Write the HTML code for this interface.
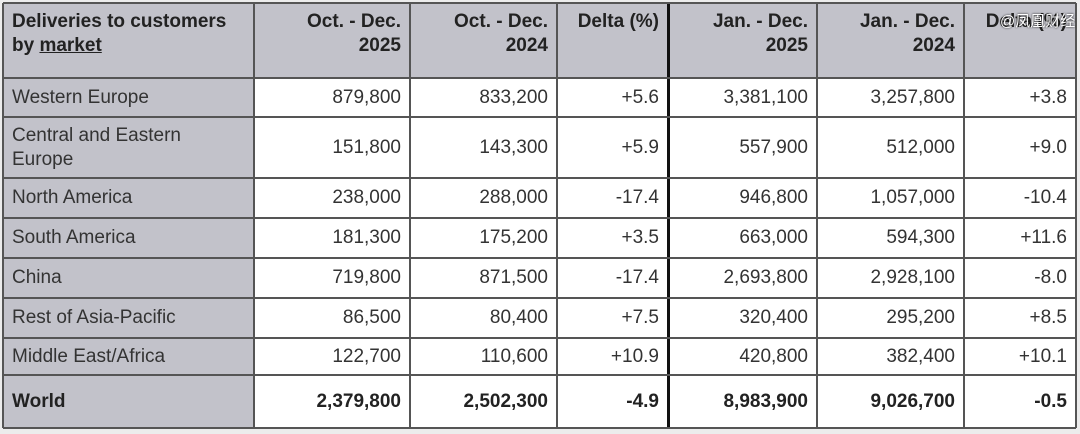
<!DOCTYPE html><html><head><style>
body{margin:0;width:1080px;height:434px;background:#ececec;position:relative;overflow:hidden;font-family:"Liberation Sans","Noto Sans CJK SC",sans-serif;}
.c{position:absolute;box-sizing:border-box;font-size:19px;color:#333;padding:0 9px;display:flex;align-items:center;justify-content:flex-end;text-align:right;line-height:24px}
.c>span{display:block}
.g{background:#c2c2ca}.w{background:#fff}
.l{justify-content:flex-start;text-align:left}
.h{font-weight:bold;color:#222;align-items:flex-start;padding-top:7px}
.b{font-weight:bold;color:#222}
.v{position:absolute;background:#555}
</style></head><body>
<div id="t"></div>
<script>
const X=[3,254,410,557,668,817,964,1076],Y=[3,78,117,178,218,258,298,338,375,428];
const H=["Deliveries to customers<br>by <u>market</u>","Oct. - Dec.<br>2025","Oct. - Dec.<br>2024","Delta (%)","Jan. - Dec.<br>2025","Jan. - Dec.<br>2024","Delta (%)"];
const R=[["Western Europe","879,800","833,200","+5.6","3,381,100","3,257,800","+3.8"],
["Central and Eastern<br>Europe","151,800","143,300","+5.9","557,900","512,000","+9.0"],
["North America","238,000","288,000","-17.4","946,800","1,057,000","-10.4"],
["South America","181,300","175,200","+3.5","663,000","594,300","+11.6"],
["China","719,800","871,500","-17.4","2,693,800","2,928,100","-8.0"],
["Rest of Asia-Pacific","86,500","80,400","+7.5","320,400","295,200","+8.5"],
["Middle East/Africa","122,700","110,600","+10.9","420,800","382,400","+10.1"],
["World","2,379,800","2,502,300","-4.9","8,983,900","9,026,700","-0.5"]];
let s="";
const cell=(r,c,txt,cls)=>`<div class="c ${cls}" style="left:${X[c]}px;top:${Y[r]}px;width:${X[c+1]-X[c]}px;height:${Y[r+1]-Y[r]}px"><span>${txt}</span></div>`;
H.forEach((t,c)=>s+=cell(0,c,t,"g h"+(c==0?" l":"")));
R.forEach((row,i)=>row.forEach((t,c)=>{let cls=(c==0?"g l":"w")+(i==7?" b":"");s+=cell(i+1,c,t,cls)}));
X.forEach(x=>s+=`<div class="v" style="left:${x-1}px;top:3px;width:${x==668?3:2}px;height:425px;background:${x==668?'#111':'#555'}"></div>`);
Y.forEach(y=>s+=`<div class="v" style="left:3px;top:${y-1}px;width:1073px;height:2px"></div>`);
s+=`<div style="position:absolute;left:1000px;top:10px;font-size:15px;color:#fff;text-shadow:0 0 2px #000;white-space:nowrap">@凤凰财经</div>`;
document.getElementById("t").innerHTML=s;
</script>
</body></html>
